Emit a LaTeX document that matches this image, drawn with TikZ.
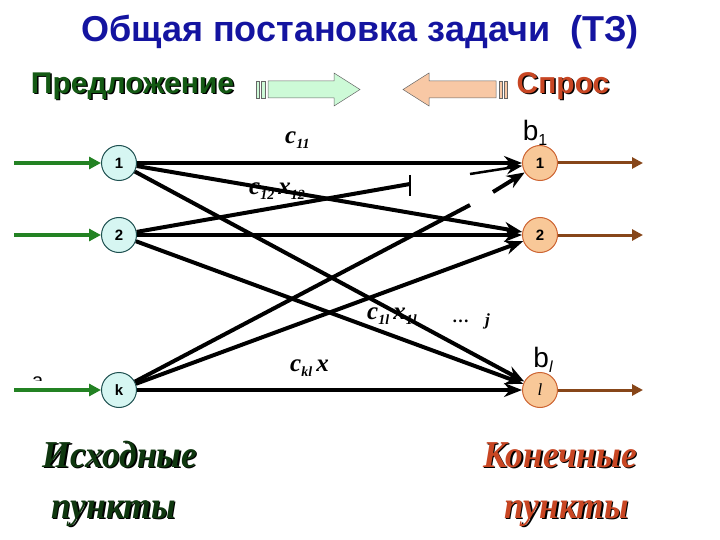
\documentclass[tikz,border=0pt]{standalone}
\usepackage{fontspec}
\setmainfont{Liberation Sans}
\newfontfamily\lserif{Liberation Serif}
\usetikzlibrary{arrows.meta}
\definecolor{titleblue}{RGB}{20,20,160}
\definecolor{supgreen}{RGB}{20,90,20}
\definecolor{footgreen}{RGB}{15,55,15}
\definecolor{demred}{RGB}{200,70,35}
\definecolor{srcfill}{RGB}{214,246,242}
\definecolor{srcline}{RGB}{30,80,80}
\definecolor{dstfill}{RGB}{248,200,152}
\definecolor{dstline}{RGB}{205,100,50}
\definecolor{ingreen}{RGB}{35,130,35}
\definecolor{outbrown}{RGB}{135,70,25}
\definecolor{arrgreen}{RGB}{205,250,215}
\definecolor{arrorange}{RGB}{248,200,165}
\newcommand\subx[1]{\raisebox{-5pt}{\fontsize{14}{14}\selectfont #1}}
\newcommand\clab[2]{{\lserif\bfseries\itshape c\subx{#1}\,#2}}
\tikzset{
  src/.style={circle, draw=srcline, line width=1pt, fill=srcfill, minimum size=35pt, inner sep=0pt, font=\fontsize{15}{15}\selectfont\bfseries},
  dst/.style={circle, draw=dstline, line width=1pt, fill=dstfill, minimum size=35pt, inner sep=0pt, font=\fontsize{15}{15}\selectfont\bfseries},
  flow/.style={line width=4pt, -{Stealth[length=18pt,width=14pt]}},
  bar/.style={line width=4pt},
  inarr/.style={draw=ingreen, line width=4pt, -{Triangle[length=12pt,width=12pt]}},
  outarr/.style={draw=outbrown, line width=3pt, -{Triangle[length=11pt,width=11pt]}},
  lab/.style={inner sep=0pt, font=\fontsize{25}{25}\selectfont},
  blab/.style={inner sep=0pt, font=\fontsize{28}{28}\selectfont},
  head/.style={inner sep=0pt, font=\fontsize{30}{30}\selectfont\bfseries},
  foot/.style={inner sep=0pt, anchor=base, font=\lserif\fontsize{38}{38}\selectfont\bfseries\itshape, xscale=0.93},
  footcap/.style={foot, text height=0.66em, text depth=0.08em},
  footlow/.style={foot, text height=0.46em, text depth=0.2em},
}
\begin{document}
\begin{tikzpicture}[x=1pt,y=-1pt]
\useasboundingbox (0,0) rectangle (720,540);
% title
\node[inner sep=0pt, text=titleblue, font=\fontsize{36}{36}\selectfont\bfseries] (title) at (360,32) {Общая постановка задачи \ (ТЗ)};
% headers with shadow
\node[head, text=black] at (134,87.5) {Предложение};
\node[head, text=supgreen] (sup) at (132.5,86) {Предложение};
\node[head, text=black] at (564.5,87.5) {Спрос};
\node[head, text=demred] (dem) at (563,86) {Спрос};
% block arrows
\draw[black!60, line width=0.5pt, fill=arrgreen] (256,81) rectangle (259,98) (261,81) rectangle (265,98);
\draw[black!60, line width=0.5pt, fill=arrgreen] (268,81) -- (334,81) -- (334,73) -- (360,89.5) -- (334,106) -- (334,98) -- (268,98) -- cycle;
\draw[black!60, line width=0.5pt, fill=arrorange] (504,81) rectangle (507,98) (499,81) rectangle (502,98);
\draw[black!60, line width=0.5pt, fill=arrorange] (496,81) -- (429,81) -- (429,73) -- (403,89.5) -- (429,106) -- (429,98) -- (496,98) -- cycle;
% nodes
\node[src] (s1) at (119,163) {1};
\node[src] (s2) at (119,235) {2};
\node[src] (sk) at (119,390) {k};
\node[dst] (d1) at (540,163) {1};
\node[dst] (d2) at (540,235) {2};
\node[dst, font=\lserif\fontsize{17}{17}\selectfont\itshape] (dl) at (540,390) {l};
% labels (under lines)
\node[lab, anchor=west] (l11) at (285,140) {\clab{11}{}};
\node[lab, anchor=west] (l12) at (249,191) {\clab{12}{x\subx{12}}};
\node[lab, anchor=west] (l1l) at (367,316) {\clab{1l}{x\subx{1l}}};
\node[lab, anchor=west, font=\lserif\fontsize{17}{17}\selectfont\bfseries] (dots) at (452,321) {…};
\node[lab, anchor=west, font=\lserif\fontsize{17}{17}\selectfont\bfseries\itshape] (jj) at (485,321) {j};
\node[lab, anchor=west] (lkl) at (290,368) {\clab{kl}{x}};
\node[blab] (b1) at (535,133) {b\raisebox{-5pt}{\fontsize{16}{16}\selectfont 1}};
\node[blab] (bl) at (543,360) {b\raisebox{-5pt}{\fontsize{16}{16}\selectfont\itshape l}};
\begin{scope}
\clip (26,366) rectangle (58,380);
\node[inner sep=0pt, font=\fontsize{20}{20}\selectfont] (ak) at (42,384) {a\raisebox{-4pt}{\fontsize{13}{13}\selectfont K}};
\end{scope}
% partial end points
\coordinate (t21) at (410,184);
\coordinate (f21) at (493,192);
\coordinate (tk1) at (470,205);
\coordinate (fk1) at (470,174);
% flows
\draw[flow] (s1) -- (d1);
\draw[flow] (s1) -- (d2);
\draw[flow] (s1) -- (dl);
\draw[bar] (s2) -- (t21);
\draw[line width=2pt] (410,175) -- (410,196);
\draw[flow] (f21) -- (d1);
\draw[flow] (s2) -- (d2);
\draw[flow] (s2) -- (dl);
\draw[bar] (sk) -- (tk1);
\draw[line width=2.5pt, -{Stealth[length=16pt,width=12pt]}] (fk1) -- (d1);
\draw[flow] (sk) -- (d2);
\draw[flow] (sk) -- (dl);
% in / out
\foreach \n in {s1,s2,sk} { \draw[inarr] (\n.west) ++(-87,0) coordinate (in\n) -- (\n); }
\foreach \n in {d1,d2,dl} { \draw[outarr] (\n) -- ([xshift=85pt]\n.east) coordinate (out\n); }
% footer
\node[footcap, text=black] at (121.5,468.5) {Исходные};
\node[footcap, text=footgreen] (src1) at (120,467) {Исходные};
\node[footlow, text=black] at (115,519.5) {пункты};
\node[footlow, text=footgreen] (src2) at (113.5,518) {пункты};
\node[footcap, text=black] at (561.5,468.5) {Конечные};
\node[footcap, text=demred] (dst1) at (560,467) {Конечные};
\node[footlow, text=black] at (568,519.5) {пункты};
\node[footlow, text=demred] (dst2) at (566.5,518) {пункты};
\end{tikzpicture}
\end{document}
